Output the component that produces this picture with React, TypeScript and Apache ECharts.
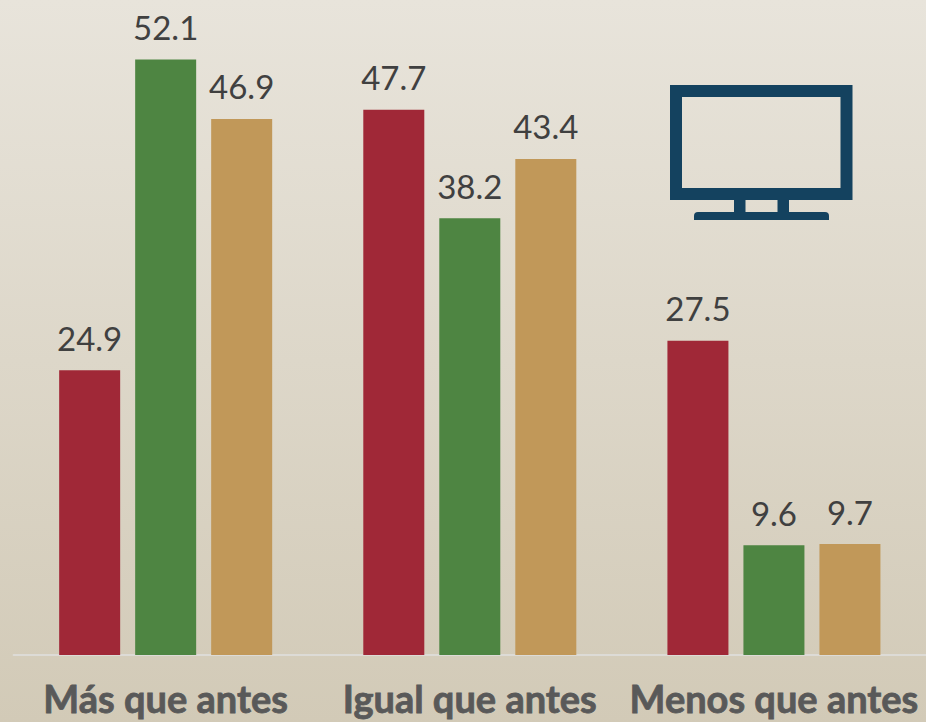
import React, { useEffect, useRef } from "react";
import * as echarts from "echarts";

const categories = ["Más que antes", "Igual que antes", "Menos que antes"];
const seriesA = [24.9, 47.7, 27.5];
const seriesB = [52.1, 38.2, 9.6];
const seriesC = [46.9, 43.4, 9.7];
const colors = ["#A02837", "#4E8542", "#C19859"];
const iconColor = "#14425F";
const font = "Lato";

export default function App() {
  const ref = useRef<HTMLDivElement>(null);
  useEffect(() => {
    document.body.style.margin = "0";
    const chart = echarts.init(ref.current!, null, { renderer: "svg" });
    const make = (name: string, data: number[], color: string) => ({
      name,
      type: "bar",
      data,
      barWidth: 61,
      barGap: "24.6%",
      itemStyle: { color },
      label: {
        show: true,
        position: "top",
        distance: 16,
        color: "#404040",
        fontFamily: font,
        fontSize: 33,
        formatter: (p: any) => p.value.toFixed(1),
      },
    });
    chart.setOption({
      animation: false,
      backgroundColor: {
        type: "linear", x: 0, y: 0, x2: 0, y2: 1,
        colorStops: [
          { offset: 0, color: "#E8E4DB" },
          { offset: 1, color: "#D2CAB7" },
        ],
      },
      grid: { left: 13.6, right: -1.6, top: 0, bottom: 67 },
      xAxis: {
        type: "category",
        data: categories,
        axisLine: { lineStyle: { color: "#DDDBD6", width: 2 } },
        axisTick: { show: false },
        axisLabel: {
          color: "#595959",
          fontFamily: font,
          fontWeight: "bold",
          fontSize: 38,
          margin: 24,
          interval: 0,
          textBorderColor: "#595959",
          textBorderWidth: 0.8,
        },
      },
      yAxis: { type: "value", min: 0, max: 57.3, show: false },
      series: [
        make("Serie 1", seriesA, colors[0]),
        make("Serie 2", seriesB, colors[1]),
        make("Serie 3", seriesC, colors[2]),
      ],
      graphic: [
        { type: "rect", shape: { x: 676, y: 91, width: 170.5, height: 103 }, style: { fill: "none", stroke: iconColor, lineWidth: 12 } },
        { type: "rect", shape: { x: 734, y: 200, width: 11.5, height: 12 }, style: { fill: iconColor } },
        { type: "rect", shape: { x: 777.5, y: 200, width: 11.5, height: 12 }, style: { fill: iconColor } },
        { type: "rect", shape: { x: 694, y: 212, width: 135, height: 8, r: [4, 4, 0, 0] }, style: { fill: iconColor } },
      ],
    });
    return () => chart.dispose();
  }, []);
  return <div ref={ref} style={{ width: 926, height: 722 }} />;
}
